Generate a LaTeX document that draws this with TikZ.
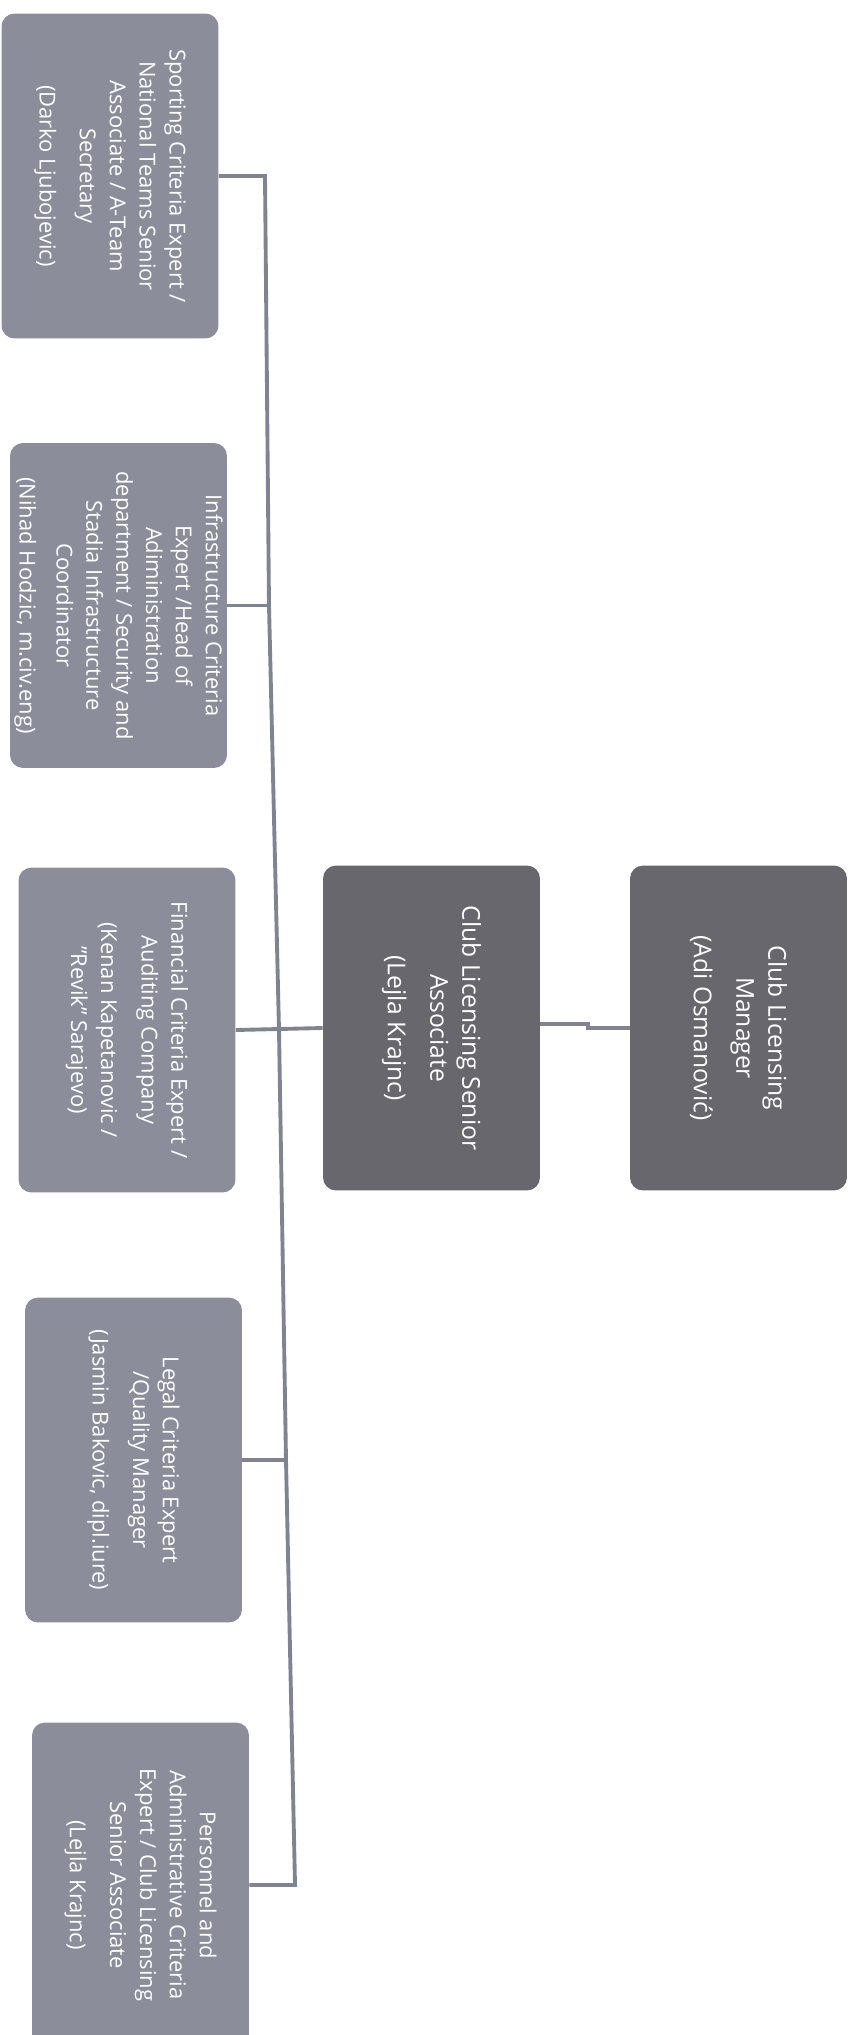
\documentclass[tikz,border=0pt]{standalone}
\usepackage{fontspec}
\setmainfont{Open Sans}
\usepackage{xcolor}
\definecolor{critgray}{RGB}{139,141,155}
\definecolor{leadgray}{RGB}{104,103,110}
\definecolor{wiregray}{RGB}{128,131,146}
\tikzset{
	card/.style={
			rotate=-90, rounded corners=0.26cm, fill=critgray, text=white,
			minimum width=6.5cm, minimum height=4.34cm, align=center,
			inner sep=2pt, font=\fontsize{12.5}{17}\selectfont
		},
	lead/.style={card, fill=leadgray, font=\fontsize{14}{18.2}\selectfont},
	wire/.style={draw=wiregray, line width=2.2pt}
}

\begin{document}
\begin{tikzpicture}[x=0.02cm, y=-0.02cm]
	\useasboundingbox (0,0) rectangle (854,2035);

	\node [card] (sport) at (110,176) {Sporting Criteria Expert /\\National Teams Senior\\Associate / A-Team\\Secretary\\[6pt](Darko Ljubojevic)};
	\node [card] (infra) at (118.5,605.5) {Infrastructure Criteria\\Expert /Head of\\Adiministration\\department / Security and\\Stadia Infrastructure\\Coordinator\\[4pt](Nihad Hodzic, m.civ.eng)};
	\node [card] (fin) at (127,1030) {Financial Criteria Expert /\\Auditing Company\\[6pt](Kenan Kapetanovic /\\"Revik" Sarajevo)};
	\node [card] (legal) at (133.5,1460) {Legal Criteria Expert\\/Quality Manager\\[6pt](Jasmin Bakovic, dipl.iure)};
	\node [card] (pers) at (140.5,1885) {Personnel and\\Administrative Criteria\\Expert / Club Licensing\\Senior Associate\\[6pt](Lejla Krajnc)};

	\node [lead] (lejla) at (431.5,1028) {Club Licensing Senior\\Associate\\[6pt](Lejla Krajnc)};
	\node [lead] (boss) at (738.5,1028) {Club Licensing\\Manager\\[6pt](Adi Osmanović)};

	% bus
	\coordinate (b1) at (265,176);
	\coordinate (b2) at (269,605.5);
	\coordinate (b3) at (279,1030);
	\coordinate (b4) at (286,1460);
	\coordinate (b5) at (295,1885);

	\draw [wire] (sport.north) -- (b1) -- (b2) -- (b3) -- (b4) -- (b5) -- (pers.north);
	\draw [wire] (infra.north) -- (b2);
	\draw [wire] (legal.north) -- (b4);
	\draw [wire] (fin.north) -- (lejla.south);
	\draw [wire] ([yshift=2.5pt]lejla.north) -- ++(48,0) |- (boss.south);
\end{tikzpicture}
\end{document}
